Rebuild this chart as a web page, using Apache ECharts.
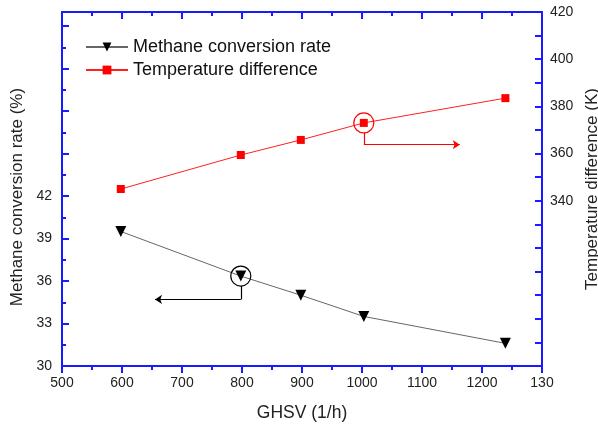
<!DOCTYPE html>
<html>
<head>
<meta charset="utf-8">
<script src="https://cdn.jsdelivr.net/npm/echarts@6/dist/echarts.min.js"></script>
<style>
  html, body { margin: 0; padding: 0; background: #fff; }
  #chart { width: 598px; height: 425px; }
</style>
</head>
<body>
<div id="chart"></div>
<script>
// GHSV values (1/h)
const ghsv = [598, 798, 898, 1003, 1239]
// methane conversion rate (%)
const methaneRate = [39.5, 36.35, 35.0, 33.5, 31.6]
// temperature difference (K)
const tempDiff = [345, 359.4, 365.8, 373, 383.5]

const blue = '#1a1aff'
const font = 'Liberation Sans, Arial, sans-serif'

const chart = echarts.init(document.getElementById('chart'))
chart.setOption({
  animation: false,
  grid: { left: 62, right: 56, top: 12, bottom: 59, outerBoundsMode: 'none', containLabel: false },
  legend: {
    left: 80, top: 33, orient: 'vertical', itemGap: 5,
    itemWidth: 42, itemHeight: 11,
    textStyle: { fontFamily: font, fontSize: 18, color: '#111' },
    data: ['Methane conversion rate', 'Temperature difference']
  },
  xAxis: [{
    type: 'value', min: 500, max: 1300, interval: 100,
    name: 'GHSV (1/h)', nameLocation: 'middle', nameGap: 38,
    nameTextStyle: { fontFamily: font, fontSize: 17.5, color: '#222' },
    axisLine: { lineStyle: { color: blue, width: 2 } },
    axisTick: { inside: false, length: 7, lineStyle: { color: blue, width: 2 } },
    minorTick: { show: true, splitNumber: 2, length: 4, lineStyle: { color: blue, width: 2 } },
    axisLabel: { fontFamily: font, fontSize: 14, color: '#222', margin: 10,
      formatter: v => v === 1300 ? '130' : String(v) },
    splitLine: { show: false }
  }, {
    type: 'value', min: 500, max: 1300, interval: 100, position: 'top',
    axisLine: { lineStyle: { color: blue, width: 2 } },
    axisTick: { inside: true, length: 7, lineStyle: { color: blue, width: 2 } },
    minorTick: { show: true, splitNumber: 2, length: 4, lineStyle: { color: blue, width: 2 } },
    axisLabel: { show: false },
    splitLine: { show: false }
  }],
  yAxis: [{
    type: 'value', min: 30, max: 55, interval: 3, position: 'left',
    name: 'Methane conversion rate (%)', nameLocation: 'middle', nameGap: 34,
    nameTextStyle: { fontFamily: font, fontSize: 17, color: '#222', padding: [0, 16, 0, 0] },
    axisLine: { show: true, lineStyle: { color: blue, width: 2 } },
    axisTick: { inside: true, length: 7, lineStyle: { color: blue, width: 2 } },
    minorTick: { show: true, splitNumber: 2, length: 4, lineStyle: { color: blue, width: 2 } },
    axisLabel: { fontFamily: font, fontSize: 14, color: '#222', margin: 10,
      formatter: v => (v <= 42 && v % 3 === 0) ? String(v) : '' },
    splitLine: { show: false }
  }, {
    type: 'value', min: 270, max: 420, interval: 10, position: 'right',
    name: 'Temperature difference (K)', nameLocation: 'middle', nameGap: 40,
    nameTextStyle: { fontFamily: font, fontSize: 17, color: '#222' },
    axisLine: { show: true, lineStyle: { color: blue, width: 2 } },
    axisTick: { inside: true, length: 7, lineStyle: { color: blue, width: 2 } },
    axisLabel: { fontFamily: font, fontSize: 14, color: '#222', margin: 8,
      formatter: v => (v >= 340 && v % 20 === 0) ? String(v) : '' },
    splitLine: { show: false }
  }],
  series: [{
    name: 'Methane conversion rate',
    type: 'line', yAxisIndex: 0,
    data: ghsv.map((x, i) => [x, methaneRate[i]]),
    symbol: 'triangle', symbolRotate: 180, symbolSize: 11,
    lineStyle: { color: '#666', width: 1 },
    itemStyle: { color: '#000' },
    markPoint: {
      symbol: 'circle', symbolSize: 20, silent: true, label: { show: false },
      itemStyle: { color: 'rgba(0,0,0,0)', borderColor: '#000', borderWidth: 1.2 },
      data: [{ coord: [ghsv[1], methaneRate[1]] }]
    },
    markLine: {
      silent: true, symbolSize: 7, label: { show: false },
      lineStyle: { color: '#000', width: 1.2, type: 'solid' },
      data: [
        [{ coord: [ghsv[1], methaneRate[1] - 0.7], symbol: 'none' }, { coord: [ghsv[1], 34.7], symbol: 'none' }],
        [{ coord: [ghsv[1], 34.7], symbol: 'none' }, { coord: [655, 34.7], symbol: 'arrow' }]
      ]
    }
  }, {
    name: 'Temperature difference',
    type: 'line', yAxisIndex: 1,
    data: ghsv.map((x, i) => [x, tempDiff[i]]),
    symbol: 'rect', symbolSize: 8,
    lineStyle: { color: '#ff2020', width: 1 },
    itemStyle: { color: '#ff0000' },
    markPoint: {
      symbol: 'circle', symbolSize: 20, silent: true, label: { show: false },
      itemStyle: { color: 'rgba(0,0,0,0)', borderColor: '#ff0000', borderWidth: 1.2 },
      data: [{ coord: [ghsv[3], tempDiff[3]] }]
    },
    markLine: {
      silent: true, symbolSize: 7, label: { show: false },
      lineStyle: { color: '#ff0000', width: 1.2, type: 'solid' },
      data: [
        [{ coord: [ghsv[3], tempDiff[3] - 4.2], symbol: 'none' }, { coord: [ghsv[3], 363.8], symbol: 'none' }],
        [{ coord: [ghsv[3], 363.8], symbol: 'none' }, { coord: [1163, 363.8], symbol: 'arrow' }]
      ]
    }
  }]
})
</script>
</body>
</html>
